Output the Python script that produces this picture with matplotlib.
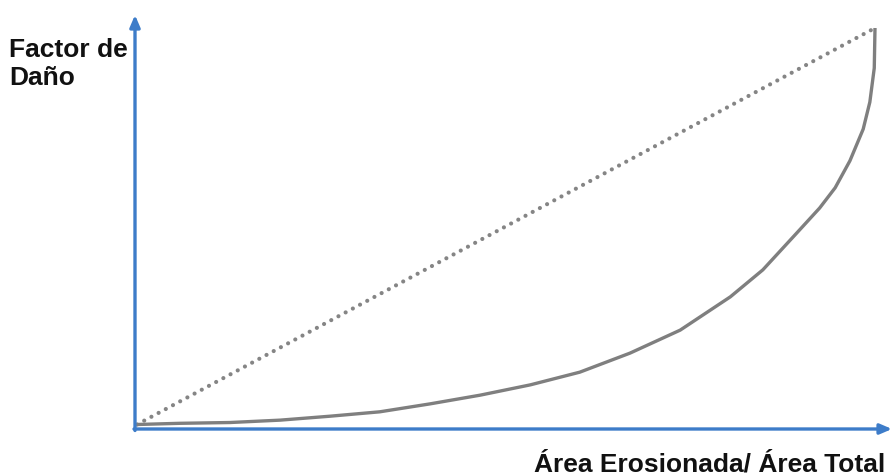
import numpy as np
import matplotlib.pyplot as plt

plt.rcParams['font.family'] = ['Liberation Sans', 'DejaVu Sans']

# damage factor curve (area ratio, damage factor)
area_ratio = [0.0, 0.058, 0.126, 0.194, 0.262, 0.329, 0.397, 0.465, 0.533,
              0.600, 0.668, 0.736, 0.804, 0.848, 0.894, 0.925, 0.946, 0.966,
              0.984, 0.993, 0.999, 1.0]
damage = [0.0, 0.003, 0.005, 0.011, 0.021, 0.032, 0.052, 0.074, 0.100,
          0.132, 0.180, 0.238, 0.322, 0.390, 0.483, 0.546, 0.597, 0.665,
          0.745, 0.813, 0.899, 1.0]

# linear reference
lin_x = [0.0, 1.0]
lin_y = [0.0, 1.0]

x_label = 'Área Erosionada/ Área Total'
y_label = 'Factor de\nDaño'

W, H = 893, 475
fig = plt.figure(figsize=(W / 100, H / 100), dpi=100)
ax = fig.add_axes([0, 0, 1, 1])

## pixel geometry -> data limits
x0, x1 = 137, 875      # px for x = 0 and 1
y0, y1 = 50.5, 447     # px from bottom for y = 0 and 1
sx = x1 - x0
sy = y1 - y0
ax.set_xlim(-x0 / sx, (W - x0) / sx)
ax.set_ylim(-y0 / sy, (H - y0) / sy)
ax.axis('off')

blue = '#3d7cc9'
grey = '#7f7f7f'

ax.plot(lin_x, lin_y, color='#858585', lw=3.0, ls=(0, (0.01, 1.95)),
        dash_capstyle='round', zorder=2)
ax.plot(area_ratio, damage, color=grey, lw=2.4, solid_joinstyle='round',
        solid_capstyle='butt', zorder=3)

## axes with arrows
ax_x = -2 / sx
ax_y = -4.5 / sy
arrow = dict(arrowstyle='-|>,head_length=0.7,head_width=0.3',
             color=blue, lw=2.4, shrinkA=0, shrinkB=0)
ax.annotate('', xy=(ax_x, (H - 15 - y0) / sy), xytext=(ax_x, -6 / sy),
            arrowprops=arrow, zorder=4)
ax.annotate('', xy=((W - 1 - x0) / sx, ax_y), xytext=(-3 / sx, ax_y),
            arrowprops=arrow, zorder=4)

ax.text((9 - x0) / sx, (H - 38 - y0) / sy, y_label, fontsize=19,
        fontweight='bold', ha='left', va='top', linespacing=1.2, color='#111111')
ax.text((885 - x0) / sx, (4 - y0) / sy, x_label, fontsize=19,
        fontweight='bold', ha='right', va='baseline', color='#111111')

fig.savefig('out.png', dpi=100)
